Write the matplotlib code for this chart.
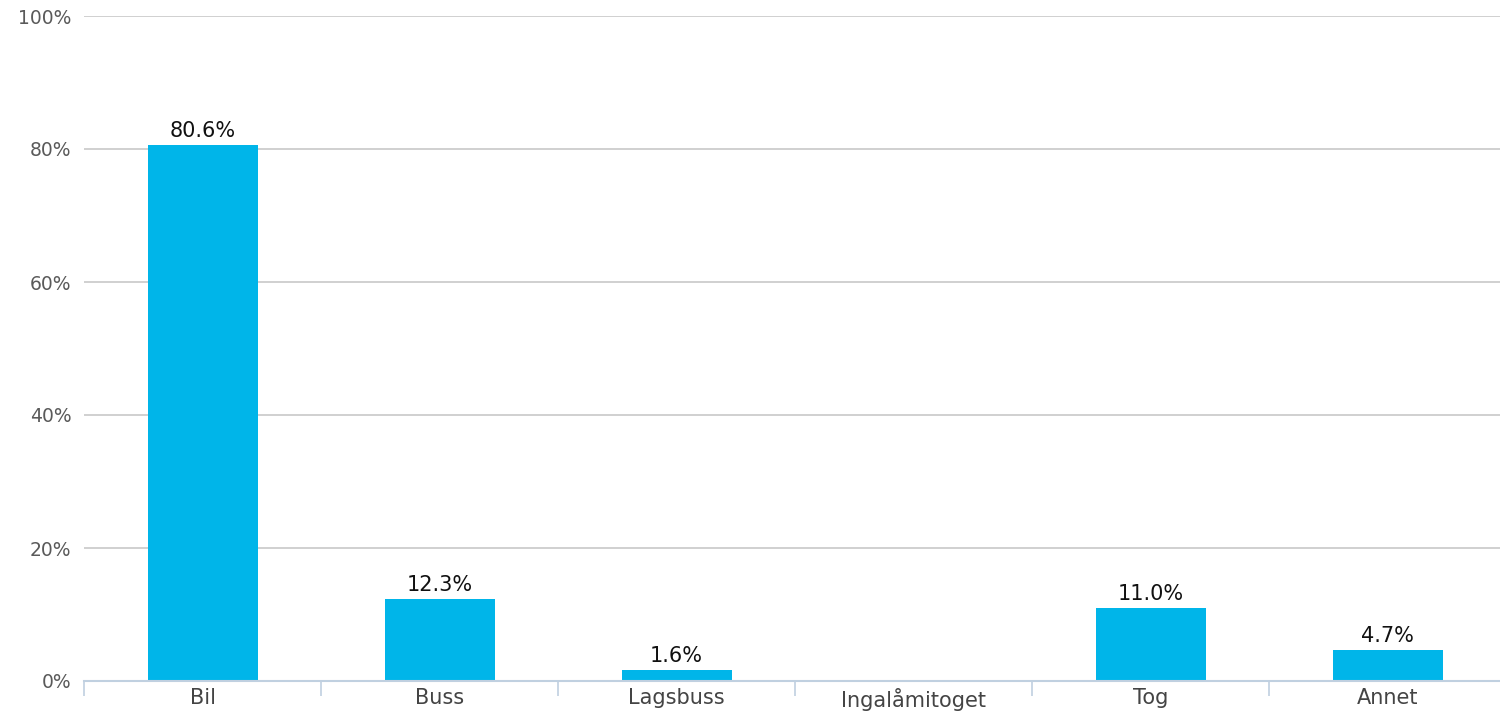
import matplotlib
matplotlib.use("Agg")
import matplotlib.pyplot as plt
import numpy as np

categories = ["Bil", "Buss", "Lagsbuss", "Ingalåmitoget", "Tog", "Annet"]
values = [80.6, 12.3, 1.6, 0.0, 11.0, 4.7]
labels = ["80.6%", "12.3%", "1.6%", "", "11.0%", "4.7%"]
yticks = [0, 20, 40, 60, 80, 100]
ytick_labels = ["0%", "20%", "40%", "60%", "80%", "100%"]

W, H = 1500, 712
fig = plt.figure(figsize=(W / 100, H / 100), dpi=100)
left, right, bottom, top = 84, 1506, 681, 16
ax = fig.add_axes([left / W, 1 - bottom / H, (right - left) / W, (bottom - top) / H])

x = np.arange(len(categories))
bars = ax.bar(x, values, width=110 / 237, color="#00b5e9", zorder=3)
for xi, v, lab in zip(x, values, labels):
    if lab:
        ax.annotate(lab, (xi, v), xytext=(0, 3), textcoords="offset points",
                    ha="center", va="bottom", fontsize=15, color="#111111")

ax.set_xlim(-0.5, len(categories) - 0.5)
ax.set_ylim(0, 100)
ax.set_yticks(yticks)
ax.set_yticklabels(ytick_labels)
ax.yaxis.grid(True, color="#c8c8c8", linewidth=1.2, zorder=0)
ax.tick_params(axis="y", length=0, pad=9, labelsize=13.5, labelcolor="#5a5a5a")

ax.set_xticks(np.arange(len(categories) + 1) - 0.5)
ax.set_xticklabels([])
ax.set_xticks(x, minor=True)
ax.set_xticklabels(categories, minor=True)
ax.tick_params(axis="x", which="major", length=11, width=1.2, color="#c0d0e0")
ax.tick_params(axis="x", which="minor", length=0, pad=5, labelsize=15, labelcolor="#444444")

for s in ["top", "right", "left"]:
    ax.spines[s].set_visible(False)
ax.spines["bottom"].set_color("#c0d0e0")
ax.spines["bottom"].set_linewidth(1.5)
ax.spines["bottom"].set_zorder(4)

fig.savefig("out.png", dpi=100)
